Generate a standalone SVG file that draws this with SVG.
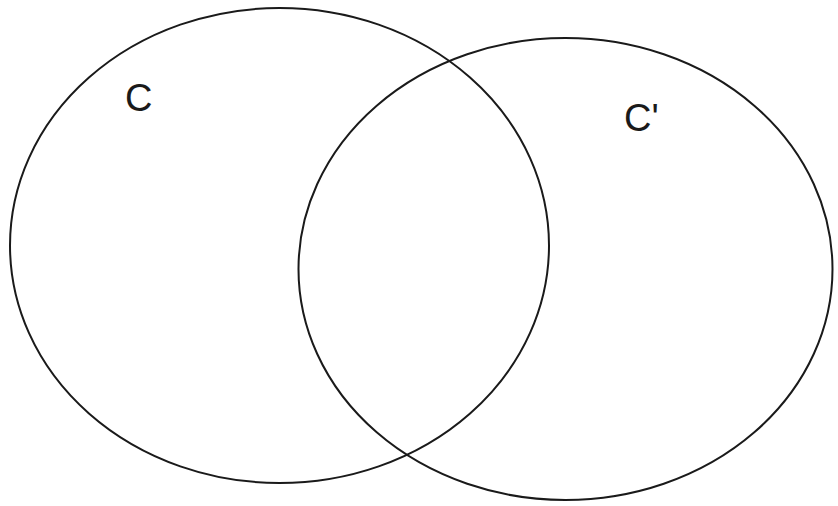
<svg xmlns="http://www.w3.org/2000/svg" width="838" height="506" viewBox="0 0 838 506">
<style>
.set{fill:none;stroke:#1a1a1a;stroke-width:2}
.lbl{font-family:"Liberation Sans",Arial,sans-serif;font-size:38px;fill:#1a1a1a}
</style>
<rect width="838" height="506" fill="#ffffff"/>
<g id="setC">
<ellipse class="set" cx="279.5" cy="245.5" rx="269.5" ry="237.5"/>
<text class="lbl" x="125" y="111">C</text>
</g>
<g id="setCprime">
<ellipse class="set" cx="565.5" cy="269" rx="267" ry="231"/>
<text class="lbl" x="624" y="131">C'</text>
</g>
<g id="connectors"/>
</svg>
